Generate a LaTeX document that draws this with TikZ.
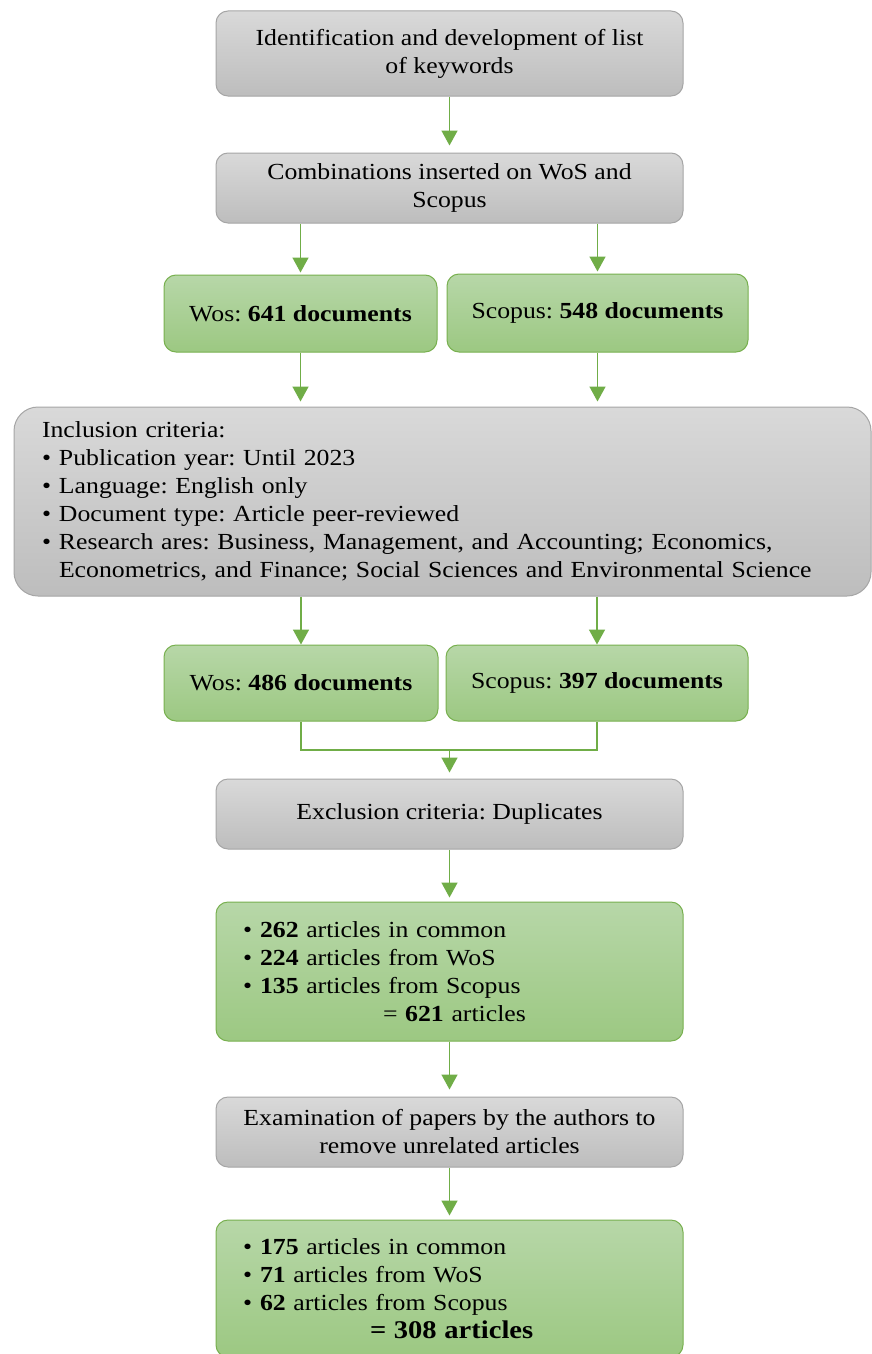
\documentclass[tikz,border=0pt]{standalone}
\usepackage{fontspec}
\setmainfont[FakeStretch=1.12]{Liberation Serif}
\usetikzlibrary{arrows.meta}
\definecolor{graytop}{HTML}{D9D9D9}
\definecolor{graybot}{HTML}{BDBDBD}
\definecolor{grayline}{HTML}{A6A6A6}
\definecolor{greentop}{HTML}{B7D7A8}
\definecolor{greenbot}{HTML}{9CC882}
\definecolor{greenline}{HTML}{78B04F}
\definecolor{arrowcol}{HTML}{70AD47}
\newcommand{\bul}{\makebox[17pt][l]{\textbullet}}
\frenchspacing
\begin{document}
\frenchspacing
\begin{tikzpicture}[x=1pt,y=-1pt,
  every node/.style={font=\fontsize{23}{28}\selectfont\frenchspacing, text=black},
  graybox/.style={draw=grayline, line width=1pt, rounded corners=12pt,
    top color=graytop, bottom color=graybot, align=center, inner sep=0pt},
  greenbox/.style={draw=greenline, line width=1pt, rounded corners=12pt,
    top color=greentop, bottom color=greenbot, inner sep=0pt},
  conn/.style={draw=arrowcol, line width=1.6pt},
  arr/.style={conn, -{Triangle[width=16pt,length=15pt]}}
]
\clip (0,0) rectangle (872,1354);
\fill[white] (0,0) rectangle (872,1354);

\node[graybox, minimum width=467pt, minimum height=85pt] (b1) at (449.5,53.5)
  {Identification and development of list\\of keywords};
\node[graybox, minimum width=467pt, minimum height=70pt] (b2) at (449.5,188)
  {Combinations inserted on WoS and\\Scopus};
\node[greenbox, minimum width=273pt, minimum height=77pt] (w1) at (300.5,313.5)
  {Wos: \textbf{641 documents}};
\node[greenbox, minimum width=301pt, minimum height=78pt] (s1) at (597.5,313)
  {Scopus: \textbf{548 documents}};
\node[graybox, rounded corners=24pt, minimum width=857pt, minimum height=189pt,
  text width=801pt, align=left] (inc) at (442.5,501.5)
  {Inclusion criteria:\\
   \bul Publication year: Until 2023\\
   \bul Language: English only\\
   \bul Document type: Article peer-reviewed\\
   \bul Research ares: Business, Management, and Accounting; Economics,\\
   \hspace*{17pt}Econometrics, and Finance; Social Sciences and Environmental Science};
\node[greenbox, minimum width=274pt, minimum height=76pt] (w2) at (301,683)
  {Wos: \textbf{486 documents}};
\node[greenbox, minimum width=302pt, minimum height=76pt] (s2) at (597,683)
  {Scopus: \textbf{397 documents}};
\node[graybox, minimum width=467pt, minimum height=70pt] (exc) at (449.5,814)
  {Exclusion criteria: Duplicates};
\node[greenbox, minimum width=467pt, minimum height=139pt, text width=413pt,
  align=left, inner xsep=27pt] (r1) at (449.5,971.5)
  {\bul\textbf{262} articles in common\\
   \bul\textbf{224} articles from WoS\\
   \bul\textbf{135} articles from Scopus\\
   \hspace*{140pt}= \textbf{621} articles};
\node[graybox, minimum width=467pt, minimum height=70pt] (exam) at (449.5,1132)
  {Examination of papers by the authors to\\remove unrelated articles};
\node[greenbox, minimum width=467pt, minimum height=137pt, text width=413pt,
  align=left, inner xsep=27pt] (r2) at (449.5,1288.5)
  {\bul\textbf{175} articles in common\\
   \bul\textbf{71} articles from WoS\\
   \bul\textbf{62} articles from Scopus\\
   \hspace*{127pt}{\fontsize{25.5}{28}\selectfont\bfseries = 308 articles}};

\draw[arr, shorten >=7pt] (b1.south) -- (b2.north);
\draw[arr, shorten >=2pt] (b2.south -| w1.north) -- (w1.north);
\draw[arr, shorten >=2pt] (b2.south -| s1.north) -- (s1.north);
\draw[arr, shorten >=5pt] (w1.south) -- (inc.north -| w1.south);
\draw[arr, shorten >=5pt] (s1.south) -- (inc.north -| s1.south);
\draw[arr] (inc.south -| w2.north) -- (w2.north);
\draw[arr] (inc.south -| s2.north) -- (s2.north);
\coordinate (mj) at (449.5,750);
\draw[conn] (w2.south) |- (mj) -| (s2.south);
\draw[arr, shorten >=6pt] (mj) -- (exc.north);
\draw[arr, shorten >=4pt] (exc.south) -- (r1.north);
\draw[arr, shorten >=7pt] (r1.south) -- (exam.north);
\draw[arr, shorten >=4pt] (exam.south) -- (r2.north);
\end{tikzpicture}
\end{document}
